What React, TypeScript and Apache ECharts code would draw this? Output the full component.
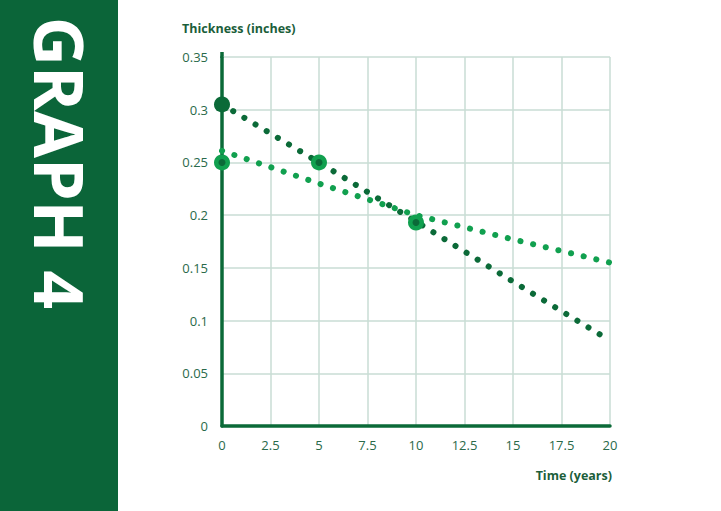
import React, { useEffect, useRef } from "react";
import * as echarts from "echarts";

const xTicks = ["0", "2.5", "5", "7.5", "10", "12.5", "15", "17.5", "20"];
const yTicks = ["0", "0.05", "0.1", "0.15", "0.2", "0.25", "0.3", "0.35"];

const darkLine: [number, number][] = [
  [0, 0.305],
  [5, 0.25],
  [10, 0.194],
  [15, 0.137],
  [20, 0.081],
];
const lightLine: [number, number][] = [
  [0, 0.261],
  [5, 0.23],
  [10, 0.2],
  [15, 0.177],
  [20, 0.155],
];
const darkMarkers: [number, number][] = [[0, 0.305]];
const ringMarkers: [number, number][] = [
  [0, 0.25],
  [5, 0.25],
  [10, 0.193],
];

const DARK = "#0b6a38";
const LIGHT = "#11a04f";
const PANEL = "#0b6539";
const LABEL = "#2a6a4a";

export default function App() {
  const ref = useRef<HTMLDivElement>(null);
  useEffect(() => {
    document.body.style.margin = "0";
    const chart = echarts.init(ref.current!, null, { renderer: "svg" });
    chart.setOption({
      animation: false,
      backgroundColor: "#ffffff",
      textStyle: { fontFamily: "Open Sans" },
      grid: { left: 222, right: 111, top: 57, bottom: 85 },
      xAxis: {
        type: "value",
        min: 0,
        max: 20,
        interval: 2.5,
        axisLine: { show: true, onZero: false, lineStyle: { color: DARK, width: 3.5 } },
        axisTick: { show: false },
        axisLabel: {
          color: LABEL,
          fontSize: 13,
          margin: 12,
          fontFamily: "Open Sans",
          formatter: (v: number) => xTicks[Math.round(v / 2.5)] ?? "",
        },
        splitLine: { show: true, lineStyle: { color: "#c9ddd4", width: 1.5 } },
      },
      yAxis: {
        type: "value",
        min: 0,
        max: 0.35,
        interval: 0.05,
        axisLine: { show: true, onZero: false, lineStyle: { color: DARK, width: 3.5 } },
        axisTick: { show: false },
        axisLabel: {
          color: LABEL,
          fontSize: 13,
          margin: 14,
          fontFamily: "Open Sans",
          formatter: (v: number) => yTicks[Math.round(v / 0.05)] ?? "",
        },
        splitLine: { show: true, lineStyle: { color: "#c9ddd4", width: 1.5 } },
      },
      graphic: [
        { type: "rect", left: 0, top: 0, shape: { width: 118, height: 511 }, style: { fill: PANEL } },
        {
          type: "text",
          x: 60,
          y: 163,
          rotation: -Math.PI / 2,
          style: {
            text: "GRAPH 4",
            fill: "#ffffff",
            font: "bold 68px 'Open Sans'",
            textAlign: "center",
            textVerticalAlign: "middle",
          },
        },
        {
          type: "line",
          shape: { x1: 222, y1: 52, x2: 222, y2: 58 },
          style: { stroke: DARK, lineWidth: 3.5 },
        },
        {
          type: "text",
          x: 182,
          y: 28,
          style: {
            text: "Thickness (inches)",
            fill: "#1b5e3a",
            font: "bold 12.5px 'Open Sans'",
            textAlign: "left",
            textVerticalAlign: "middle",
          },
        },
        {
          type: "text",
          x: 612,
          y: 475,
          style: {
            text: "Time (years)",
            fill: "#1b5e3a",
            font: "bold 12.5px 'Open Sans'",
            textAlign: "right",
            textVerticalAlign: "middle",
          },
        },
      ],
      series: [
        {
          type: "line",
          data: lightLine,
          showSymbol: false,
          symbol: "none",
          lineStyle: { color: LIGHT, width: 6, type: [0.1, 12.9], cap: "round" },
          z: 3,
        },
        {
          type: "line",
          data: darkLine,
          showSymbol: false,
          symbol: "none",
          lineStyle: { color: DARK, width: 6, type: [0.1, 12.9], cap: "round" },
          z: 3,
        },
        {
          type: "scatter",
          data: ringMarkers,
          symbolSize: 16,
          itemStyle: { color: LIGHT, opacity: 1 },
          z: 4,
        },
        {
          type: "scatter",
          data: ringMarkers,
          symbolSize: 7,
          itemStyle: { color: DARK, opacity: 1 },
          z: 5,
        },
        {
          type: "scatter",
          data: darkMarkers,
          symbolSize: 16,
          itemStyle: { color: DARK, opacity: 1 },
          z: 5,
        },
      ],
    });
    return () => chart.dispose();
  }, []);
  return (
    <div
      ref={ref}
      style={{ position: "absolute", left: 0, top: 0, width: 721, height: 511 }}
    />
  );
}
